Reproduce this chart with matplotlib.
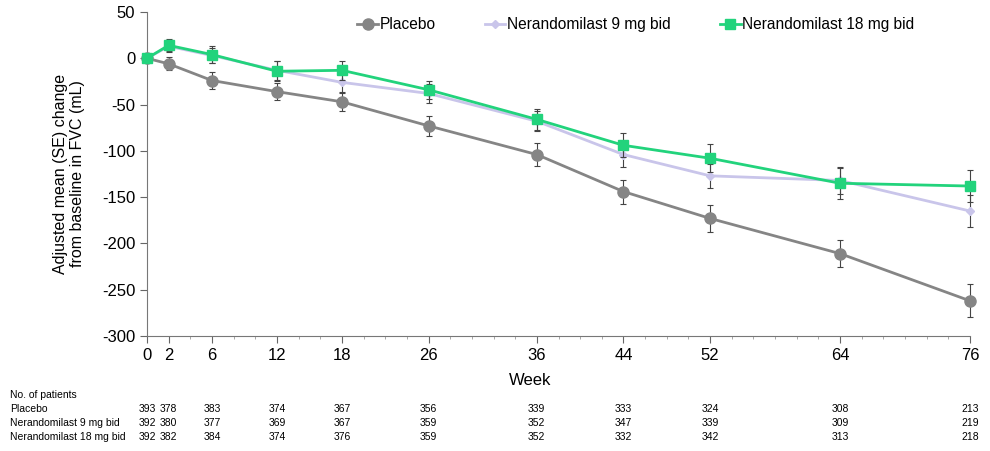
import numpy as np
import matplotlib.pyplot as plt

plt.rcParams["font.family"] = ["Liberation Sans", "DejaVu Sans"]
plt.rcParams["axes.unicode_minus"] = False

weeks = [0, 2, 6, 12, 18, 26, 36, 44, 52, 64, 76]

placebo = [0, -6, -24, -36, -47, -73, -104, -144, -173, -211, -262]
placebo_se = [0, 7, 9, 9.5, 10, 10.5, 12, 13, 14.5, 15, 18]

ner9 = [0, 13, 3, -13, -26, -38, -68, -104, -127, -132, -165]
ner9_se = [0, 6.5, 8.5, 10, 10, 10, 11, 13, 13, 15, 17]

ner18 = [0, 14, 4, -14, -13, -34, -66, -94, -108, -135, -138]
ner18_se = [0, 6.5, 9, 11, 10, 10, 11, 13, 15, 17, 17]

labels = ["Placebo", "Nerandomilast 9 mg bid", "Nerandomilast 18 mg bid"]

n_placebo = [393, 378, 383, 374, 367, 356, 339, 333, 324, 308, 213]
n_ner9 = [392, 380, 377, 369, 367, 359, 352, 347, 339, 309, 219]
n_ner18 = [392, 382, 384, 374, 376, 359, 352, 332, 342, 313, 218]

colors = ["#858585", "#c9c5ea", "#22d37c"]
markers = ["o", "D", "s"]
msizes = [8, 4.5, 7.5]

fig = plt.figure(figsize=(9.9, 4.51), dpi=100)
ax = fig.add_axes([147 / 990, 1 - 336 / 451, 823 / 990, 324 / 451])

series = [(placebo, placebo_se), (ner9, ner9_se), (ner18, ner18_se)]
for i, (vals, se) in enumerate(series):
    ax.errorbar(weeks, vals, yerr=se, fmt="none", ecolor="#444444",
                elinewidth=0.8, capsize=2, capthick=0.8, zorder=2 + i, clip_on=False)
    ax.plot(weeks, vals, color=colors[i], lw=2, marker=markers[i],
            markersize=msizes[i], label=labels[i], zorder=3 + i, clip_on=False)

ax.set_xlim(0, 76)
ax.set_ylim(-300, 50)
ax.set_xticks(weeks)
ax.set_xticks(np.arange(0, 77, 2), minor=True)
ax.set_yticks(np.arange(-300, 51, 50))
ax.tick_params(axis="both", labelsize=12, color="#666666", length=5)
ax.tick_params(axis="x", which="minor", length=2.5, color="#999999")
for s in ["top", "right"]:
    ax.spines[s].set_visible(False)
for s in ["left", "bottom"]:
    ax.spines[s].set_color("#777777")

ax.set_xlabel("Week", fontsize=12)
ax.xaxis.set_label_coords(0.465, -0.115)
ax.set_ylabel("Adjusted mean (SE) change\nfrom baseline in FVC (mL)", fontsize=11.5)
ax.yaxis.set_label_coords(-0.075, 0.5)

leg = ax.legend(loc="center", bbox_to_anchor=(0.594, 0.96), ncol=3, frameon=False,
                fontsize=11.2, handlelength=1.3, handletextpad=0.1, columnspacing=3.2,
                borderaxespad=0)

# patients at risk table
rows = [("Placebo", n_placebo), ("Nerandomilast 9 mg bid", n_ner9),
        ("Nerandomilast 18 mg bid", n_ner18)]
fig.text(10 / 990, 1 - 395 / 451, "No. of patients", fontsize=7.5, va="center")
for r, (name, counts) in enumerate(rows):
    ypix = 409 + r * 14
    fig.text(10 / 990, 1 - ypix / 451, name, fontsize=7.5, va="center")
    for w, c in zip(weeks, counts):
        xf = ax.transData.transform((w, 0))[0] / fig.bbox.width
        fig.text(xf, 1 - ypix / 451, str(c), fontsize=7.5, va="center", ha="center")

fig.savefig("out.png", dpi=100)
